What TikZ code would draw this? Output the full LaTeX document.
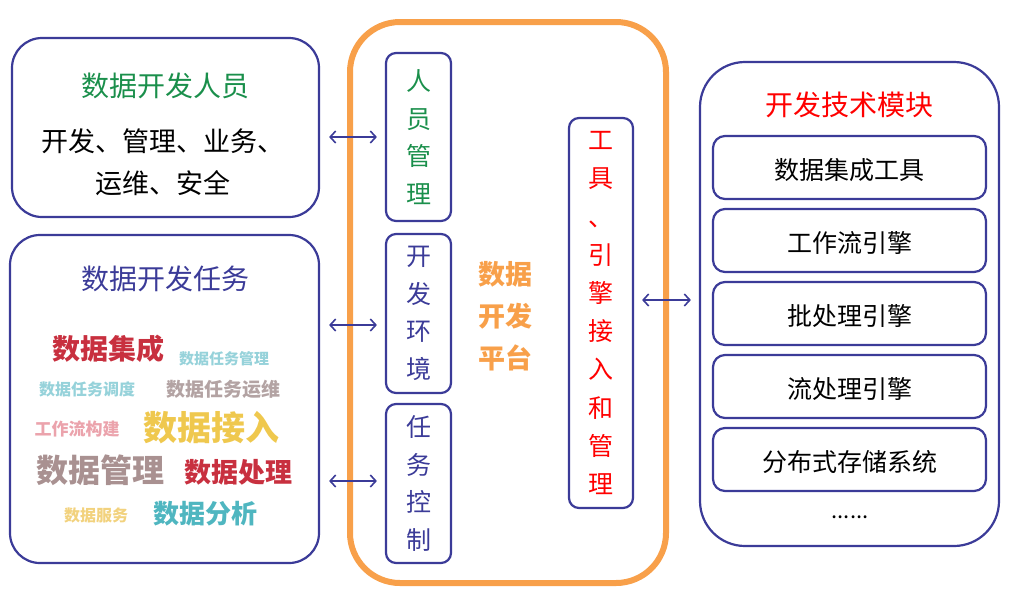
\documentclass[tikz,border=0pt]{standalone}
\usepackage{fontspec}
\setmainfont{Noto Sans CJK SC}
\usetikzlibrary{arrows.meta, positioning}
\definecolor{lineblue}{HTML}{3B3B98}
\definecolor{ptorange}{HTML}{F8A04A}
\definecolor{rygreen}{HTML}{1A8F4B}
\definecolor{wcred}{HTML}{C8303F}
\definecolor{wcteal}{HTML}{4FB6C0}
\definecolor{wcltteal}{HTML}{96D2DA}
\definecolor{wcgray}{HTML}{B3A3A3}
\definecolor{wcpink}{HTML}{EBA3AC}
\definecolor{wcgold}{HTML}{EFC84E}
\definecolor{wcltgold}{HTML}{F2D27E}
\definecolor{wcmauve}{HTML}{A99191}

\begin{document}
\begin{tikzpicture}[x=1pt, y=-1pt,
	bbox/.style={draw=lineblue, line width=2.2pt, rounded corners=30pt, inner sep=0pt},
	vbox/.style={draw=lineblue, line width=2.2pt, rounded corners=10pt, minimum width=65pt, inner sep=0pt, align=center, font=\fontsize{25}{37.5}\selectfont},
	mbox/.style={draw=lineblue, line width=2.2pt, rounded corners=12pt, minimum width=273pt, minimum height=63pt, text height=24pt, text depth=0pt, font=\fontsize{25}{30}\selectfont},
	link/.style={draw=lineblue, line width=1.6pt, {Straight Barb[length=5.5pt, width=12pt]}-{Straight Barb[length=5.5pt, width=12pt]}},
	wc/.style={text=#1, font=\bfseries\fontsize{\wcsize}{\wcsize}\selectfont}]
	\useasboundingbox (0, 0) rectangle (1019, 606);
	% left: people
	\node[bbox, minimum width=307pt, minimum height=179pt] (ryb) at (165.5, 127.5){};
	\node[text=rygreen, font=\fontsize{28}{30}\selectfont] (rytitle) at (165, 86){数据开发人员};
	\node[align=center, font=\fontsize{27}{42}\selectfont] (rytext) at (163, 162){开发、管理、业务、\\运维、安全};
	% left: tasks
	\node[bbox, minimum width=309pt, minimum height=328pt] (rwb) at (164.5, 399){};
	\node[text=lineblue, font=\fontsize{28}{30}\selectfont] (rwtitle) at (165, 279){数据开发任务};
	\foreach \t/\xx/\yy/\wcsize/\c in {
		数据集成/108/349/28/wcred, 数据任务管理/224/359/15/wcltteal,
		数据任务调度/87/389/16/wcltteal, 数据任务运维/223/389/19/wcgray,
		工作流构建/77/429/17/wcpink, 数据接入/211/428/34/wcgold,
		数据管理/100/470/32/wcmauve, 数据处理/238/472/27/wcred,
		数据服务/96/515/16/wcltgold, 数据分析/205/514/26/wcteal}
		\node[wc=\c] at (\xx, \yy){\t};
	% middle: platform
	\node[draw=ptorange, line width=6pt, rounded corners=50pt, minimum width=316pt, minimum height=561pt] (pt) at (508, 302.5){};
	\node[vbox, text=rygreen, minimum height=168pt] (rygl) at (418.5, 137){人\\员\\管\\理};
	\node[vbox, text=lineblue, minimum height=159pt] (kfhj) at (418.5, 313.5){开\\发\\环\\境};
	\node[vbox, text=lineblue, minimum height=159pt] (rwkz) at (418.5, 483.5){任\\务\\控\\制};
	\node[text=ptorange, align=center, font=\bfseries\fontsize{27}{42}\selectfont] (ptname) at (505, 316){数据\\开发\\平台};
	\node[vbox, text=red, minimum width=64pt, minimum height=390pt, font=\fontsize{25}{38.2}\selectfont] (gjyq) at (601, 313){工\\具\\、\\引\\擎\\接\\入\\和\\管\\理};
	% right: modules
	\node[bbox, rounded corners=45pt, minimum width=299pt, minimum height=484pt] (jsmk) at (849.5, 304){};
	\node[text=red, font=\fontsize{28}{30}\selectfont] (jstitle) at (849, 105){开发技术模块};
	\foreach \t [count=\i] in {数据集成工具, 工作流引擎, 批处理引擎, 流处理引擎, 分布式存储系统}
		\node[mbox] (m\i) at (849.5, 94.5+73*\i){\t};
	\node[font=\fontsize{22}{24}\selectfont] (more) at (850, 517){......};
	% links
	\draw[link, shorten <=9pt, shorten >=8pt] (ryb.east |- rygl.west) -- (rygl.west);
	\draw[link, shorten <=9pt, shorten >=8pt] (ryb.east |- kfhj.west) ++(0, 11.5) coordinate (a2) -- (a2 -| kfhj.west);
	\draw[link, shorten <=9pt, shorten >=8pt] (rwb.east |- rwkz.west) ++(0, -2.5) coordinate (a3) -- (a3 -| rwkz.west);
	\draw[link, shorten <=8pt, shorten >=8pt] ([yshift=13pt]gjyq.east) -- ([yshift=13pt]gjyq.east -| jsmk.west);
\end{tikzpicture}
\end{document}
